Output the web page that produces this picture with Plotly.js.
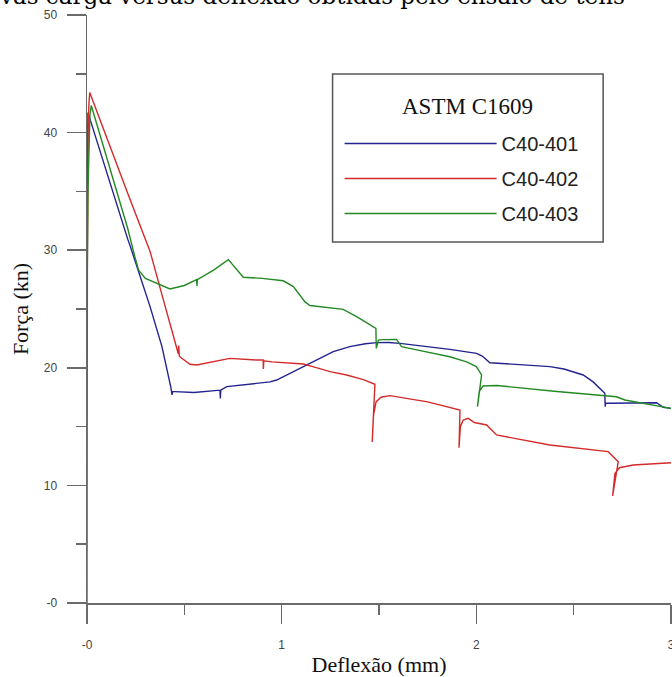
<!DOCTYPE html>
<html>
<head>
<meta charset="utf-8">
<script src="https://cdn.plot.ly/plotly-3.0.1.min.js"></script>
<style>
  html, body { margin: 0; padding: 0; background: #ffffff; overflow: hidden; width: 672px; height: 677px; }
  #wrap { position: relative; width: 672px; height: 677px; overflow: hidden; }
  #chart { position: absolute; left: 0; top: 0; width: 672px; height: 677px; }
  #caption {
    position: absolute; left: 0; top: -15px; z-index: 5;
    font-family: "DejaVu Serif", serif; font-size: 23px; line-height: 23px;
    color: #000000; white-space: nowrap; pointer-events: none;
  }
</style>
</head>
<body>
<div id="wrap">
  <div id="chart"></div>
  <div id="caption"></div>
</div>
<script>
// ---- data ----
const seriesNames = ["C40-401", "C40-402", "C40-403"];

const x401 = [0.0, 0.001, 0.002, 0.004, 0.005, 0.21, 0.221, 0.324, 0.385, 0.43, 0.435, 0.437, 0.44, 0.452, 0.55, 0.683, 0.685, 0.687, 0.718, 0.837, 0.94, 0.974, 1.05, 1.128, 1.2, 1.265, 1.35, 1.43, 1.488, 1.55, 1.608, 1.7, 1.8, 1.864, 2.001, 2.03, 2.07, 2.2, 2.378, 2.45, 2.549, 2.6, 2.66, 2.662, 2.664, 2.686, 2.8, 2.926, 2.96, 3.0];
const y401 = [31.0, 36.0, 40.0, 38.5, 41.7, 30.9, 30.4, 25.2, 21.8, 18.4, 17.97, 17.7, 17.97, 17.97, 17.9, 18.1, 17.4, 18.1, 18.4, 18.6, 18.8, 18.96, 19.6, 20.24, 20.8, 21.37, 21.8, 22.05, 22.14, 22.15, 22.08, 21.9, 21.7, 21.57, 21.23, 21.0, 20.43, 20.3, 20.1, 19.9, 19.39, 18.8, 17.83, 16.7, 17.0, 16.98, 17.0, 17.03, 16.64, 16.55];

const x402 = [0.0, 0.001, 0.003, 0.006, 0.01, 0.014, 0.21, 0.298, 0.324, 0.392, 0.469, 0.471, 0.474, 0.48, 0.529, 0.563, 0.65, 0.734, 0.872, 0.905, 0.906, 0.908, 0.95, 1.026, 1.111, 1.16, 1.248, 1.334, 1.42, 1.479, 1.465, 1.472, 1.485, 1.51, 1.556, 1.75, 1.916, 1.911, 1.918, 1.933, 1.958, 1.99, 2.053, 2.104, 2.378, 2.677, 2.729, 2.7, 2.712, 2.735, 2.806, 3.0];
const y402 = [24.0, 30.0, 35.0, 40.0, 42.5, 43.4, 34.8, 30.9, 29.9, 25.8, 21.2, 21.9, 21.0, 20.9, 20.3, 20.24, 20.5, 20.8, 20.66, 20.66, 19.9, 20.6, 20.5, 20.4, 20.32, 20.1, 19.67, 19.39, 19.0, 18.6, 13.7, 16.0, 17.1, 17.5, 17.63, 17.1, 16.41, 13.2, 15.0, 15.56, 15.7, 15.35, 15.14, 14.29, 13.44, 12.87, 12.02, 9.1, 11.0, 11.5, 11.73, 11.93];

const x403 = [0.0, 0.0, 0.002, 0.005, 0.01, 0.015, 0.022, 0.21, 0.245, 0.265, 0.3, 0.358, 0.426, 0.5, 0.563, 0.565, 0.567, 0.65, 0.726, 0.803, 0.9, 1.008, 1.06, 1.12, 1.145, 1.316, 1.385, 1.484, 1.486, 1.497, 1.52, 1.59, 1.616, 1.7, 1.864, 1.95, 2.0, 2.027, 2.006, 2.015, 2.035, 2.104, 2.4, 2.72, 2.763, 2.96, 3.0];
const y403 = [0.0, 24.0, 29.0, 35.0, 40.0, 41.5, 42.3, 31.8, 29.5, 28.3, 27.6, 27.2, 26.7, 27.0, 27.5, 26.96, 27.5, 28.3, 29.2, 27.7, 27.6, 27.4, 26.9, 25.6, 25.3, 24.97, 24.35, 23.36, 21.66, 22.36, 22.4, 22.42, 21.8, 21.5, 20.94, 20.5, 20.1, 19.4, 16.7, 18.0, 18.45, 18.5, 18.0, 17.54, 17.26, 16.64, 16.55];

const xTickVals = [0, 1, 2, 3];
const xTickText = ["-0", "1", "2", "3"];
const yTickVals = [0, 10, 20, 30, 40, 50];
const yTickText = ["-0", "10", "20", "30", "40", "50"];

const legendTitle = "ASTM C1609";
const xTitle = "Deflexão (mm)";
const yTitle = "Força (kn)";
const captionText = "vas carga versus deflexão obtidas pelo ensaio de tens";

document.getElementById("caption").textContent = captionText;

const colors = ["#23238f", "#d42a2a", "#238a23"];

const traces = [
  { x: x401, y: y401, name: seriesNames[0], legendgroup: "a", type: "scatter", mode: "lines", line: { color: colors[0], width: 1.4 } },
  { x: x402, y: y402, name: seriesNames[1], legendgroup: "b", type: "scatter", mode: "lines", line: { color: colors[1], width: 1.4 } },
  { x: x403, y: y403, name: seriesNames[2], legendgroup: "c", type: "scatter", mode: "lines", line: { color: colors[2], width: 1.4 } }
];

const axisColor = "#6a6a6a";
const tickFont = { family: "Liberation Sans, Arial, sans-serif", size: 12, color: "#444444" };
const serif = "Liberation Serif, Times New Roman, serif";

const layout = {
  width: 672,
  height: 677,
  margin: { l: 87, r: 1, t: 15, b: 74 },
  paper_bgcolor: "#ffffff",
  plot_bgcolor: "#ffffff",
  showlegend: true,
  xaxis: {
    range: [0, 3.0],
    showgrid: false,
    zeroline: false,
    showline: true,
    linecolor: axisColor,
    linewidth: 1.5,
    ticks: "outside",
    ticklen: 19,
    tickwidth: 1.5,
    tickcolor: axisColor,
    tickvals: xTickVals,
    ticktext: xTickText,
    tickfont: tickFont,
    ticklabelstandoff: 11,
    ticklabeloverflow: "allow",
    minor: { dtick: 0.5, ticks: "outside", ticklen: 10, tickwidth: 1.5, tickcolor: axisColor },
    title: { text: xTitle, font: { family: serif, size: 22, color: "#111111" }, standoff: 6 }
  },
  yaxis: {
    range: [0, 50],
    showgrid: false,
    zeroline: false,
    showline: true,
    linecolor: axisColor,
    linewidth: 1.5,
    ticks: "outside",
    ticklen: 19,
    tickwidth: 1.5,
    tickcolor: axisColor,
    tickvals: yTickVals,
    ticktext: yTickText,
    tickfont: tickFont,
    ticklabelstandoff: 7,
    minor: { dtick: 5, ticks: "outside", ticklen: 10, tickwidth: 1.5, tickcolor: axisColor },
    title: { text: yTitle, font: { family: serif, size: 22, color: "#111111" }, standoff: 9 }
  },
  legend: {
    x: 0.4325,
    y: 0.8146,
    xanchor: "left",
    yanchor: "top",
    bgcolor: "rgba(0,0,0,0)",
    borderwidth: 0,
    traceorder: "grouped",
    tracegroupgap: 6,
    itemwidth: 152,
    font: { family: "Liberation Sans, Arial, sans-serif", size: 20, color: "#222222" }
  },
  shapes: [
    {
      type: "rect", xref: "paper", yref: "paper",
      x0: 0.4205, x1: 0.8838, y0: 0.6139, y1: 0.8997,
      line: { color: "#555555", width: 1.5 },
      fillcolor: "#ffffff",
      layer: "below"
    }
  ],
  annotations: [
    {
      text: legendTitle,
      xref: "paper", yref: "paper",
      x: 0.6513, y: 0.8452,
      xanchor: "center", yanchor: "middle",
      showarrow: false,
      font: { family: serif, size: 23, color: "#111111" }
    }
  ]
};

Plotly.newPlot("chart", traces, layout, { staticPlot: true, displayModeBar: false });
</script>
</body>
</html>
